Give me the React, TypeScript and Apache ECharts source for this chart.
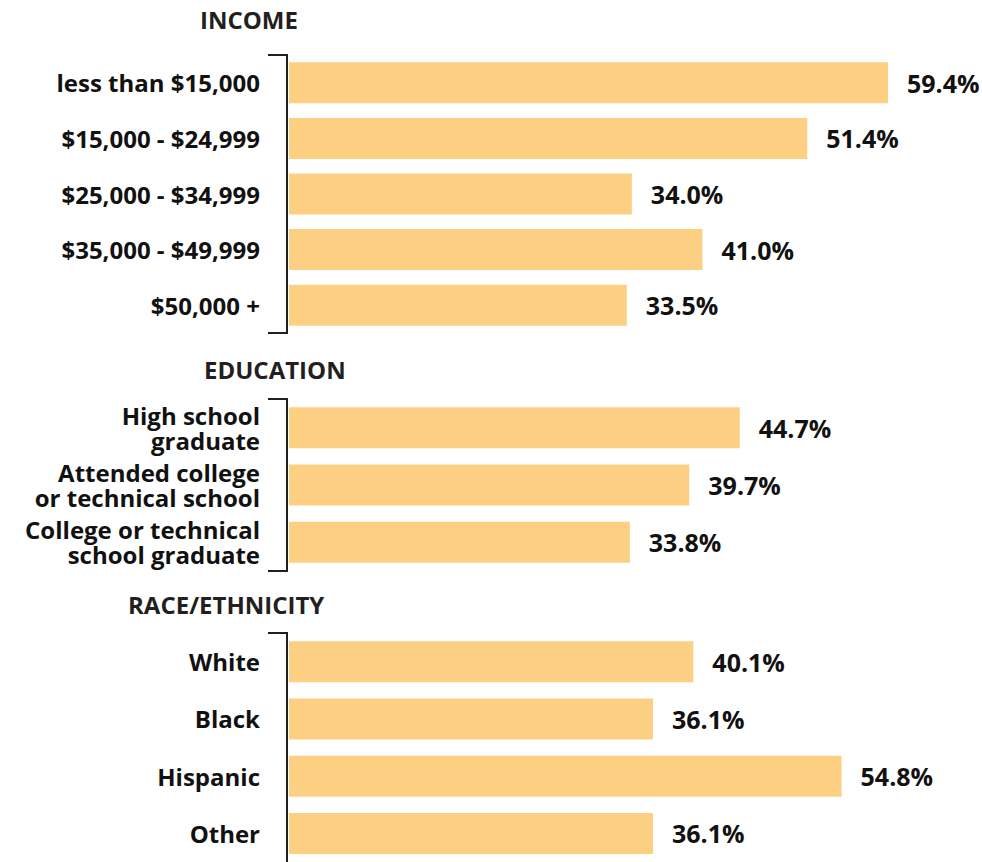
import React, { useEffect, useRef } from "react";
import * as echarts from "echarts";

const incomeCats = ["less than $15,000", "$15,000 - $24,999", "$25,000 - $34,999", "$35,000 - $49,999", "$50,000 +"];
const incomeVals = [59.4, 51.4, 34.0, 41.0, 33.5];
const eduCats = ["High school\ngraduate", "Attended college\nor technical school", "College or technical\nschool graduate"];
const eduVals = [44.7, 39.7, 33.8];
const raceCats = ["White", "Black", "Hispanic", "Other"];
const raceVals = [40.1, 36.1, 54.8, 36.1];
const groupTitles = ["INCOME", "EDUCATION", "RACE/ETHNICITY"];

const FONT = "'Open Sans', 'Noto Sans', sans-serif";
const BAR = "#FDCF83";
const INK = "#111111";
const HEAD = "#231F20";

export default function App() {
  const ref = useRef<HTMLDivElement>(null);
  useEffect(() => {
    document.body.style.margin = "0";
    const chart = echarts.init(ref.current!, null, { renderer: "svg" });
    const left = 289;
    const right = 88;
    const grids = [
      { top: 55, height: 278, cats: incomeCats, vals: incomeVals },
      { top: 399, height: 172, cats: eduCats, vals: eduVals },
      { top: 633, height: 229, cats: raceCats, vals: raceVals },
    ];
    const titlePos = [
      { x: 200, y: 19 },
      { x: 204, y: 369 },
      { x: 128, y: 604 },
    ];
    const graphic: any[] = [];
    grids.forEach((g, i) => {
      const bottom = i === 2 ? 880 : g.top + g.height;
      const pts = i === 2
        ? [[268, g.top], [287, g.top], [287, bottom]]
        : [[268, g.top], [287, g.top], [287, bottom], [268, bottom]];
      graphic.push({
        type: "polyline",
        shape: { points: pts },
        style: { stroke: HEAD, lineWidth: 2, fill: null },
      });
      graphic.push({
        type: "text",
        x: titlePos[i].x,
        y: titlePos[i].y,
        style: {
          text: groupTitles[i],
          font: `bold 24px ${FONT}`,
          fill: HEAD,
          verticalAlign: "middle",
        },
      });
    });
    chart.setOption({
      animation: false,
      grid: grids.map((g) => ({ left, right, top: g.top, height: g.height })),
      xAxis: grids.map((_, i) => ({
        type: "value",
        gridIndex: i,
        min: 0,
        max: 60,
        show: false,
      })),
      yAxis: grids.map((g, i) => ({
        type: "category",
        gridIndex: i,
        inverse: true,
        data: g.cats,
        axisLine: { show: false },
        axisTick: { show: false },
        axisLabel: {
          margin: 29,
          color: INK,
          fontFamily: FONT,
          fontWeight: "bold",
          fontSize: 24,
          lineHeight: 25,
          align: "right",
        },
      })),
      series: grids.map((g, i) => ({
        type: "bar",
        xAxisIndex: i,
        yAxisIndex: i,
        data: g.vals,
        barWidth: 41,
        itemStyle: { color: BAR },
        label: {
          show: true,
          position: "right",
          distance: 19,
          color: INK,
          fontFamily: FONT,
          fontWeight: "bold",
          fontSize: 25,
          formatter: (p: any) => `${Number(p.value).toFixed(1)}%`,
        },
      })),
      graphic,
    });
    return () => chart.dispose();
  }, []);
  return <div ref={ref} style={{ width: 982, height: 862 }} />;
}
